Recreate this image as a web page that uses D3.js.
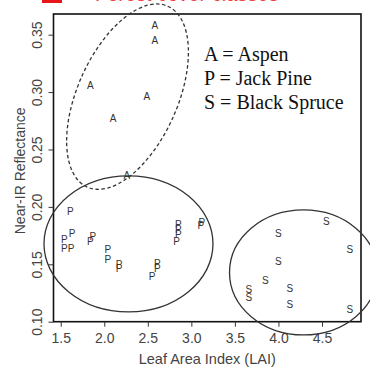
<!DOCTYPE html>
<html>
<head>
<script src="https://d3js.org/d3.v7.min.js" charset="utf-8"></script>
<style>
    body { margin: 0; background: #fff; }
    svg { display: block; }
</style>
</head>
<body>
<script>
    // points: [LAI, near-IR reflectance]
    var aspen = [[2.58, 0.358], [2.58, 0.345], [1.84, 0.306], [2.49, 0.296], [2.10, 0.277], [2.26, 0.227]];
    var jackPine = [[1.61, 0.196], [1.63, 0.177], [1.54, 0.172], [1.54, 0.164], [1.62, 0.164],
                    [1.87, 0.174], [1.84, 0.170], [2.04, 0.163], [2.04, 0.154], [2.17, 0.150],
                    [2.17, 0.146], [2.61, 0.151], [2.61, 0.146], [2.55, 0.139], [2.85, 0.185],
                    [2.85, 0.180], [2.85, 0.176], [2.83, 0.170], [3.12, 0.186], [3.11, 0.184]];
    var blackSpruce = [[4.55, 0.187], [4.00, 0.177], [4.82, 0.163], [4.00, 0.152], [3.85, 0.136],
                       [4.13, 0.129], [3.66, 0.128], [3.66, 0.121], [4.13, 0.115], [4.82, 0.111]];
    var xTicks = [1.5, 2.0, 2.5, 3.0, 3.5, 4.0, 4.5];
    var yTicks = [0.10, 0.15, 0.20, 0.25, 0.30, 0.35];
    var legendLines = ["A = Aspen", "P = Jack Pine", "S = Black  Spruce"];

    var w = 370, h = 368;
    var mLeft = 53.5, mRight = 361, mTop = 14, mBottom = 321.7;

    var x = d3.scaleLinear().domain([1.417, 4.948]).range([mLeft, mRight]);
    var y = d3.scaleLinear().domain([0.10, 0.368]).range([mBottom, mTop]);

    var svg = d3.select("body").append("svg")
        .attr("width", w)
        .attr("height", h);

    // clipped red caption at the very top
    svg.append("rect").attr("x", 42).attr("y", -10).attr("width", 20).attr("height", 13).attr("fill", "#e8161b");
    svg.append("text").attr("x", 95).attr("y", 0.6)
        .attr("font-family", "Arial, sans-serif").attr("font-size", 20)
        .attr("fill", "#f04040").text("Forest cover classes");

    // box
    svg.append("rect")
        .attr("x", mLeft).attr("y", mTop)
        .attr("width", mRight - mLeft).attr("height", mBottom - mTop)
        .attr("fill", "none").attr("stroke", "#111").attr("stroke-width", 1.6);

    // axes
    var xAxis = d3.axisBottom(x).tickValues(xTicks).tickFormat(d3.format(".1f")).tickSize(5).tickPadding(6);
    var gx = svg.append("g").attr("transform", "translate(0," + mBottom + ")").call(xAxis);
    gx.select(".domain").remove();
    gx.selectAll("text").attr("font-family", "Arial, Liberation Sans, sans-serif").attr("font-size", 14).attr("fill", "#444");
    gx.selectAll("line").attr("stroke", "#333");

    var yAxis = d3.axisLeft(y).tickValues(yTicks).tickFormat(d3.format(".2f")).tickSize(5);
    var gy = svg.append("g").attr("transform", "translate(" + mLeft + ",0)").call(yAxis);
    gy.select(".domain").remove();
    gy.selectAll("line").attr("stroke", "#333");
    gy.selectAll("text")
        .attr("font-family", "Arial, Liberation Sans, sans-serif").attr("font-size", 14).attr("fill", "#444")
        .attr("text-anchor", "middle").attr("x", 0).attr("dy", null)
        .attr("transform", "translate(-15.5,0) rotate(-90)")
        .attr("y", 0).attr("dominant-baseline", "middle");

    svg.append("text")
        .attr("x", (mLeft + mRight) / 2).attr("y", 363.5)
        .attr("text-anchor", "middle")
        .attr("font-family", "Arial, Liberation Sans, sans-serif").attr("font-size", 14.5).attr("fill", "#444")
        .text("Leaf Area Index (LAI)");

    svg.append("text")
        .attr("transform", "translate(21.5," + ((mTop + mBottom) / 2 + 3) + ") rotate(-90)")
        .attr("text-anchor", "middle").attr("dominant-baseline", "middle")
        .attr("font-family", "Arial, Liberation Sans, sans-serif").attr("font-size", 14).attr("fill", "#444")
        .text("Near-IR Reflectance");

    // group outlines
    var groups = [
        {cx: 2.267, cy: 0.296, rx: 99, ry: 50, rot: -66, dash: "3.5,2.5"},
        {cx: 2.278, cy: 0.1678, rx: 84.5, ry: 68, rot: 0, dash: null},
        {cx: 4.288, cy: 0.1429, rx: 74, ry: 62.5, rot: 0, dash: null}
    ];
    svg.selectAll("ellipse.grp").data(groups).enter().append("ellipse")
        .attr("class", "grp")
        .attr("rx", function(d) { return d.rx; })
        .attr("ry", function(d) { return d.ry; })
        .attr("transform", function(d) { return "translate(" + x(d.cx) + "," + y(d.cy) + ") rotate(" + d.rot + ")"; })
        .attr("fill", "none").attr("stroke", "#333").attr("stroke-width", 1.3)
        .attr("stroke-dasharray", function(d) { return d.dash; });

    // letter markers
    function plotLetters(data, letter) {
        svg.append("g").selectAll("text").data(data).enter().append("text")
            .attr("x", function(d) { return x(d[0]); })
            .attr("y", function(d) { return y(d[1]); })
            .attr("text-anchor", "middle").attr("dominant-baseline", "central")
            .attr("font-family", "Arial, Liberation Sans, sans-serif").attr("font-size", 10)
            .attr("fill", "#333")
            .text(letter);
    }
    plotLetters(aspen, "A");
    plotLetters(jackPine, "P");
    plotLetters(blackSpruce, "S");

    // legend
    svg.append("g").selectAll("text").data(legendLines).enter().append("text")
        .attr("x", 204)
        .attr("y", function(d, i) { return 60.7 + i * 24.3; })
        .attr("font-family", "Liberation Serif, Times New Roman, serif").attr("font-size", 20)
        .attr("fill", "#111")
        .text(function(d) { return d; });
</script>
</body>
</html>
